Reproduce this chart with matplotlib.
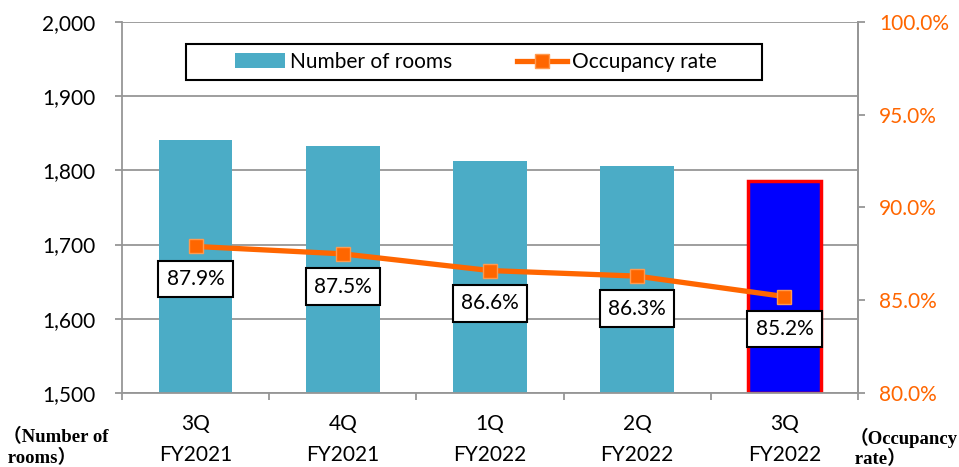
import matplotlib
matplotlib.use("Agg")
import matplotlib.pyplot as plt
from matplotlib.patches import Rectangle
import numpy as np

categories = ["3Q\nFY2021", "4Q\nFY2021", "1Q\nFY2022", "2Q\nFY2022", "3Q\nFY2022"]
rooms = [1841, 1833, 1813, 1806, 1786]
occupancy = [87.9, 87.5, 86.6, 86.3, 85.2]
occ_labels = ["87.9%", "87.5%", "86.6%", "86.3%", "85.2%"]

plt.rcParams['font.family'] = ['Lato', 'DejaVu Sans']
FS = 15
GRAY = "#969696"

fig = plt.figure(figsize=(9.59, 4.67), dpi=100)
ax = fig.add_axes([0.1272, 0.1585, 0.7675, 0.7944])
x = np.arange(len(categories))

colors = ["#4BACC6"] * 4 + ["#0000FF"]
edges = ["#4BACC6"] * 4 + ["#FF0000"]
lws = [0, 0, 0, 0, 2.5]
bars = ax.bar(x, [r - 1500 for r in rooms], bottom=1500, width=0.5, color=colors,
              edgecolor=edges, linewidth=lws, zorder=2, label="Number of rooms")
ax.set_ylim(1500, 2000)
ax.set_xlim(-0.5, 4.5)
ax.set_yticks(np.arange(1500, 2001, 100))
ax.set_yticklabels([f"{v:,}" for v in range(1500, 2001, 100)], fontsize=FS)
ax.yaxis.grid(True, color=GRAY, linewidth=1.3, zorder=0)
ax.set_axisbelow(True)
ax.set_xticks(x)
ax.set_xticks(np.arange(-0.5, 4.6, 1.0), minor=True)
ax.set_xticklabels(categories, fontsize=FS, linespacing=1.7)
ax.tick_params(axis='x', which='major', length=0, pad=15)
ax.tick_params(axis='x', which='minor', length=5, width=1.3, color=GRAY, direction='out')
ax.tick_params(axis='y', length=5, width=1.3, color=GRAY, direction='out', pad=14)
ax.spines["top"].set_visible(False)
for s in ["left", "bottom", "right"]:
    ax.spines[s].set_color(GRAY)
    ax.spines[s].set_linewidth(1.3)

ax2 = ax.twinx()
ax2.set_ylim(80, 100)
ax2.set_yticks(np.arange(80, 100.1, 5))
ax2.set_yticklabels([f"{v:.1f}%" for v in np.arange(80, 100.1, 5)], fontsize=FS, color="#FF6600")
ax2.tick_params(axis='y', length=5, width=1.3, color=GRAY, direction='out', pad=10)
for s in ["top", "left", "bottom"]:
    ax2.spines[s].set_visible(False)
ax2.spines["right"].set_color(GRAY)
ax2.spines["right"].set_linewidth(1.3)
line, = ax2.plot(x, occupancy, color="#FF6600", linewidth=3.8, marker="s", markersize=10,
                 markerfacecolor="#FF6600", markeredgecolor="#FF9A50", markeredgewidth=1,
                 zorder=5, label="Occupancy rate")
for xi, yi, lab in zip(x, occupancy, occ_labels):
    ax2.annotate(lab, (xi, yi), xytext=(0, -23.5), textcoords="offset points", ha="center", va="center",
                 fontsize=FS, zorder=6,
                 bbox=dict(boxstyle="square,pad=0.4", facecolor="white", edgecolor="black", linewidth=1.5))

# legend frame drawn separately
ax2.add_patch(Rectangle((0.087, 0.8437), 0.7826, 0.097, transform=ax2.transAxes,
                        facecolor="white", edgecolor="black", linewidth=1.5, zorder=8))
leg = ax2.legend([bars, line], ["Number of rooms", "Occupancy rate"], loc="center left",
                 bbox_to_anchor=(0.1535, 0.892), ncol=2, fontsize=FS, frameon=False,
                 handlelength=2.4, handletextpad=0.25, columnspacing=3.1, borderpad=0,
                 borderaxespad=0, handleheight=0.7)
leg.set_zorder(9)

lab_font = dict(fontsize=13.5, fontweight="bold", family=["Liberation Serif", "Noto Sans CJK JP"],
                ha="left", va="center", linespacing=1.2)
fig.text(0.003, 0.041, "（Number of\n rooms）", **lab_font)
fig.text(0.886, 0.041, "（Occupancy\n rate）", **lab_font)

fig.savefig("out.png", dpi=100)
